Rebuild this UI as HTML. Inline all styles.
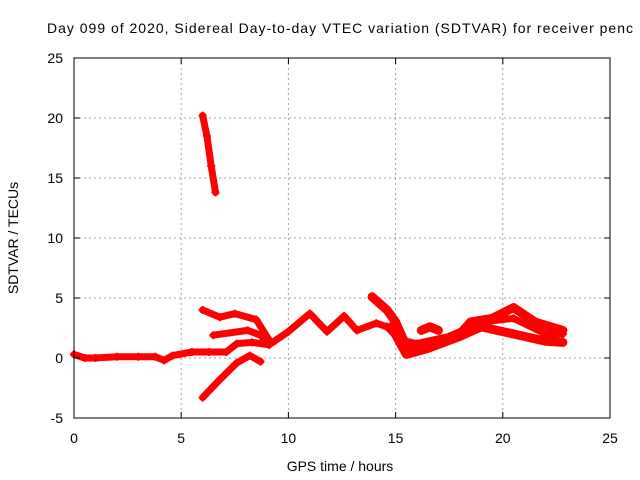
<!DOCTYPE html>
<html><head><meta charset="utf-8"><style>
body{margin:0;background:#fff;}
svg{display:block;font-family:"Liberation Sans",sans-serif;}
</style></head><body>
<svg id="chart" width="640" height="480">
<rect width="640" height="480" fill="#fff"/>
<text x="47" y="33" font-size="14" textLength="586" lengthAdjust="spacing" fill="#000">Day 099 of 2020, Sidereal Day-to-day VTEC variation (SDTVAR) for receiver penc</text>
<g id="grid"></g>
<g id="marks"></g>
<rect x="74" y="58" width="536" height="360" fill="none" stroke="#000" stroke-width="1"/>
<g id="axes"></g>
<text x="340" y="471" font-size="14" text-anchor="middle">GPS time / hours</text>
<text transform="translate(18,238) rotate(-90)" font-size="14" text-anchor="middle">SDTVAR / TECUs</text>
</svg>
<script>
const xTicks=[0,5,10,15,20,25];
const yTicks=[-5,0,5,10,15,20,25];
const seriesSteep=[[6.0,20.2],[6.2,18.5],[6.4,16],[6.6,13.8]];
const seriesTrunk=[[0,0.3],[0.5,0],[1,0],[2,0.1],[3,0.1],[3.8,0.1],[4.2,-0.2],[4.6,0.2],[5.5,0.5],[6.3,0.5],[7.1,0.5],[7.6,1.2],[8.3,1.3],[9.1,1.1],[10,2.2],[11,3.7],[11.8,2.2],[12.6,3.5],[13.2,2.3],[14.1,2.9],[14.6,2.6],[15.2,1.5],[16,1.2],[17.5,1.8],[19,3],[20.5,3.3],[22,2],[22.8,2]];
const seriesUpper=[[6,4],[6.8,3.4],[7.5,3.7],[8.5,3.2],[9.1,1.5]];
const seriesMid=[[6.5,1.9],[8.1,2.3],[8.7,1.9],[9.1,1.1]];
const seriesLow=[[6,-3.3],[6.8,-1.8],[7.6,-0.4],[8.2,0.2],[8.7,-0.3]];
const seriesRightUp=[[13.9,5.1],[14.6,4],[15,3],[15.5,1],[16,0.7],[17,1.2],[18,2],[18.5,3],[19.5,3.3],[20.5,4.2],[21.5,3],[22.8,2.3]];
const seriesRightLow=[[14.8,2.6],[15.5,0.3],[16.5,0.8],[18,1.8],[19,2.6],[20,2.2],[21,1.8],[22,1.4],[22.8,1.3]];
const seriesBump=[[16.2,2.3],[16.6,2.6],[17,2.3]];
const allSeries=[seriesSteep,seriesTrunk,seriesUpper,seriesMid,seriesLow,seriesRightUp,seriesRightLow,seriesBump];
const X=v=>74+(v-0)*(536/25);
const Y=v=>358-v*12;
const NS="http://www.w3.org/2000/svg";
const grid=document.getElementById('grid'),axes=document.getElementById('axes'),marks=document.getElementById('marks');
function mk(t,a,p){const e=document.createElementNS(NS,t);for(const k in a)e.setAttribute(k,a[k]);p.appendChild(e);return e;}
xTicks.forEach(t=>{
 if(t>0&&t<25){const g=mk('line',{x1:X(t),x2:X(t),y1:58,y2:418,stroke:'#a0a0a0','stroke-dasharray':'2,3'},grid);
 
 }
 mk('line',{x1:X(t),x2:X(t),y1:418,y2:412,stroke:'#000'},axes);
 mk('line',{x1:X(t),x2:X(t),y1:58,y2:64,stroke:'#000'},axes);
 const l=mk('text',{x:X(t),y:443,'font-size':14,'text-anchor':'middle'},axes);l.textContent=t;
 
 
});
yTicks.forEach(t=>{
 if(t>-5&&t<25){const g=mk('line',{x1:74,x2:610,y1:Y(t),y2:Y(t),stroke:'#a0a0a0','stroke-dasharray':'2,3'},grid);
 
 }
 mk('line',{x1:74,x2:80,y1:Y(t),y2:Y(t),stroke:'#000'},axes);
 mk('line',{x1:610,x2:604,y1:Y(t),y2:Y(t),stroke:'#000'},axes);
 const l=mk('text',{x:63,y:Y(t)+5,'font-size':14,'text-anchor':'end'},axes);l.textContent=t;
 
 
});
allSeries.forEach((s,i)=>{
 const w=(i>=5)?9:7;
 const p=mk('polyline',{points:s.map(d=>X(d[0])+','+Y(d[1])).join(' '),fill:'none',stroke:'#ff0000','stroke-width':w,'stroke-linejoin':'round','stroke-linecap':'round'},marks);
 
 
 s.forEach(d=>{
  const m=mk('path',{d:`M${X(d[0])-4},${Y(d[1])}h8M${X(d[0])},${Y(d[1])-4}v8`,stroke:'#ff0000','stroke-width':2},marks);
  
  
 });
});
</script>
</body></html>
